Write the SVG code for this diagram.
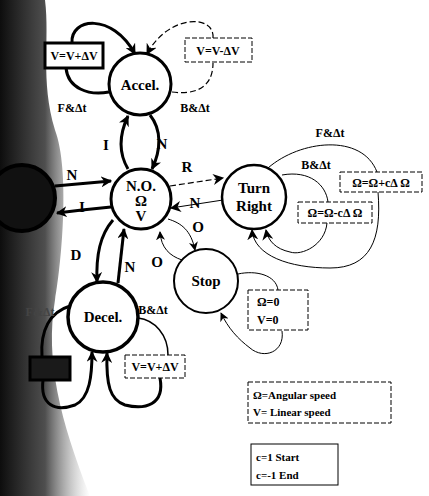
<svg xmlns="http://www.w3.org/2000/svg" width="429" height="496" viewBox="0 0 429 496">
<defs>
<linearGradient id="scan" x1="0" y1="0" x2="1" y2="0">
<stop offset="0" stop-color="#000" stop-opacity="0.95"/>
<stop offset="0.5" stop-color="#222" stop-opacity="0.8"/>
<stop offset="1" stop-color="#888" stop-opacity="0"/>
</linearGradient>
<marker id="ah" viewBox="0 0 10 10" refX="9" refY="5" markerWidth="11" markerHeight="11" markerUnits="userSpaceOnUse" orient="auto">
<path d="M0,0 L10,5 L0,10 L3,5 Z" fill="#000"/>
</marker>
<marker id="ahs" viewBox="0 0 10 10" refX="9" refY="5" markerWidth="9" markerHeight="9" markerUnits="userSpaceOnUse" orient="auto">
<path d="M0,0 L10,5 L0,10 L3,5 Z" fill="#000"/>
</marker>
</defs>
<style>
.st{fill:#fff;stroke:#000}
.lbl{font-family:"Liberation Serif","Times New Roman",serif;font-weight:bold;fill:#000;text-anchor:middle}
.big{font-size:15px}
.sm{font-size:12px}
.xs{font-size:12px}
.txt{font-family:"Liberation Serif","Times New Roman",serif;font-weight:bold;fill:#000;font-size:11px}
.thick{fill:none;stroke:#000;stroke-width:3}
.thin{fill:none;stroke:#000;stroke-width:1}
.dash{fill:none;stroke:#000;stroke-width:1.2;stroke-dasharray:6 3}
.box{fill:#fff;stroke:#000;stroke-width:1;stroke-dasharray:5 2}
.hbox{stroke:#000;stroke-width:3}
</style>
<rect width="429" height="496" fill="#fff"/>
<path d="M0,0 L45,0 C50,40 40,80 55,130 C70,170 62,260 55,300 C45,360 60,420 90,496 L0,496 Z" fill="url(#scan)"/>

<g id="connectors">
<path class="thick" d="M109,92 C88,96 68,88 66,68"/>
<path class="thick" d="M72,43 C70,18 112,12 135,54" marker-end="url(#ah)"/>
<path class="dash" d="M172,92 C195,95 213,88 213,63"/>
<path class="dash" d="M213,38 C215,14 168,14 147,54" marker-end="url(#ah)"/>
<path class="thick" d="M128,169 C118,152 119,135 128,116" marker-end="url(#ah)"/>
<path class="thick" d="M150,115 C162,130 161,150 152,169" marker-end="url(#ah)"/>
<path class="thick" d="M55,186 L111,181" marker-end="url(#ah)"/>
<path class="thick" d="M111,207 L82,210 L57,213" marker-end="url(#ah)"/>
<path class="thick" d="M113,220 C100,235 96,255 97,282" marker-end="url(#ah)"/>
<path class="thick" d="M118,283 L124,229" marker-end="url(#ah)"/>
<path class="thin" d="M168,219 C181,223 191,230 195,250" marker-end="url(#ahs)"/>
<path class="thin" d="M182,260 C170,256 161,248 160,232" marker-end="url(#ahs)"/>
<path class="dash" d="M170,186 L223,178" marker-end="url(#ah)"/>
<path class="thin" d="M223,200 L171,208" marker-end="url(#ah)"/>
<path class="thin" d="M268,168 C300,140 362,133 377,172"/>
<path class="thin" d="M378,192 C382,240 370,268 330,268 C290,268 254,256 252,230" marker-end="url(#ah)"/>
<path class="thin" d="M282,175 C310,170 326,185 328,202"/>
<path class="thin" d="M327,223 C325,245 302,256 290,252 C276,249 268,241 266,230" marker-end="url(#ah)"/>
<path class="thin" d="M238,274 C256,270 276,275 278,290"/>
<path class="thin" d="M282,331 C285,352 264,360 250,348 C238,339 228,328 221,313" marker-end="url(#ahs)"/>
<path class="thin" d="M138,318 C155,320 168,335 168,355" style="stroke-width:1.5"/>
<path class="thick" d="M160,378 C165,405 145,410 125,405 C110,400 106,385 107,353" marker-end="url(#ah)"/>
<path class="thick" d="M70,306 C50,312 40,330 42,357"/>
<path class="thick" d="M43,380 C40,405 55,412 75,405 C90,398 92,375 92,352" marker-end="url(#ah)"/>
</g>

<g id="left-state">
<circle cx="22" cy="198" r="33" fill="#111" stroke="#000" stroke-width="4"/>
</g>
<g id="accel">
<circle class="st" cx="140" cy="84" r="31" stroke-width="3"/>
<text class="lbl big" x="140" y="90">Accel.</text>
</g>
<g id="no">
<circle class="st" cx="141" cy="199" r="30" stroke-width="3"/>
<text class="lbl big" x="141" y="191">N.O.</text>
<text class="lbl big" x="141" y="206">Ω</text>
<text class="lbl big" x="141" y="221">V</text>
</g>
<g id="turn-right">
<circle class="st" cx="254" cy="197" r="32" stroke-width="2.5"/>
<text class="lbl big" x="254" y="193">Turn</text>
<text class="lbl big" x="254" y="211">Right</text>
</g>
<g id="stop">
<circle class="st" cx="206" cy="281" r="32" stroke-width="2"/>
<text class="lbl big" x="206" y="286">Stop</text>
</g>
<g id="decel">
<circle class="st" cx="103" cy="317" r="35" stroke-width="3.5"/>
<text class="lbl big" x="103" y="322">Decel.</text>
</g>

<g id="box-accel-inc">
<rect class="hbox" fill="#fff" x="45" y="43" width="58" height="25"/>
<text class="lbl sm" x="74" y="60">V=V+ΔV</text>
</g>
<g id="box-accel-dec">
<rect class="box" x="185" y="38" width="67" height="24"/>
<text class="lbl sm" x="218" y="55">V=V-ΔV</text>
</g>
<g id="box-turn-inc">
<rect class="box" x="340" y="172" width="82" height="20"/>
<text class="lbl sm" x="381" y="187">Ω=Ω+cΔ Ω</text>
</g>
<g id="box-turn-dec">
<rect class="box" x="298" y="202" width="74" height="21"/>
<text class="lbl sm" x="335" y="217">Ω=Ω-cΔ Ω</text>
</g>
<g id="box-stop">
<rect class="box" x="248" y="290" width="60" height="40"/>
<text class="txt" x="257" y="306" style="font-size:12px">Ω=0</text>
<text class="txt" x="257" y="324" style="font-size:12px">V=0</text>
</g>
<g id="box-decel-dec">
<rect class="box" x="125" y="355" width="60" height="23"/>
<text class="lbl sm" x="155" y="371">V=V+ΔV</text>
</g>
<g id="box-decel-inc">
<rect class="hbox" fill="#1a1a1a" x="30" y="357" width="40" height="23"/>
</g>
<g id="legend-1">
<rect class="box" x="248" y="382" width="143" height="41"/>
<text class="txt" x="253" y="399">Ω=Angular speed</text>
<text class="txt" x="253" y="416">V= Linear speed</text>
</g>
<g id="legend-2">
<rect fill="#fff" stroke="#000" stroke-width="1" x="251" y="444" width="87" height="41"/>
<text class="txt" x="256" y="461">c=1  Start</text>
<text class="txt" x="256" y="479">c=-1 End</text>
</g>

<g id="labels">
<text class="lbl xs" x="72" y="112">F&amp;Δt</text>
<text class="lbl xs" x="195" y="112">B&amp;Δt</text>
<text class="lbl big" x="106" y="150">I</text>
<text class="lbl big" x="162" y="149">N</text>
<text class="lbl big" x="72" y="180">N</text>
<text class="lbl big" x="82" y="212">I</text>
<text class="lbl big" x="187" y="172">R</text>
<text class="lbl big" x="195" y="208">N</text>
<text class="lbl big" x="198" y="232">O</text>
<text class="lbl big" x="157" y="267">O</text>
<text class="lbl big" x="130" y="272">N</text>
<text class="lbl big" x="76" y="260">D</text>
<text class="lbl xs" x="330" y="137">F&amp;Δt</text>
<text class="lbl xs" x="316" y="169">B&amp;Δt</text>
<text class="lbl xs" x="153" y="314">B&amp;Δt</text>
<text class="lbl xs" x="40" y="316" style="fill:#444">F&amp;Δt</text>
</g>
</svg>
